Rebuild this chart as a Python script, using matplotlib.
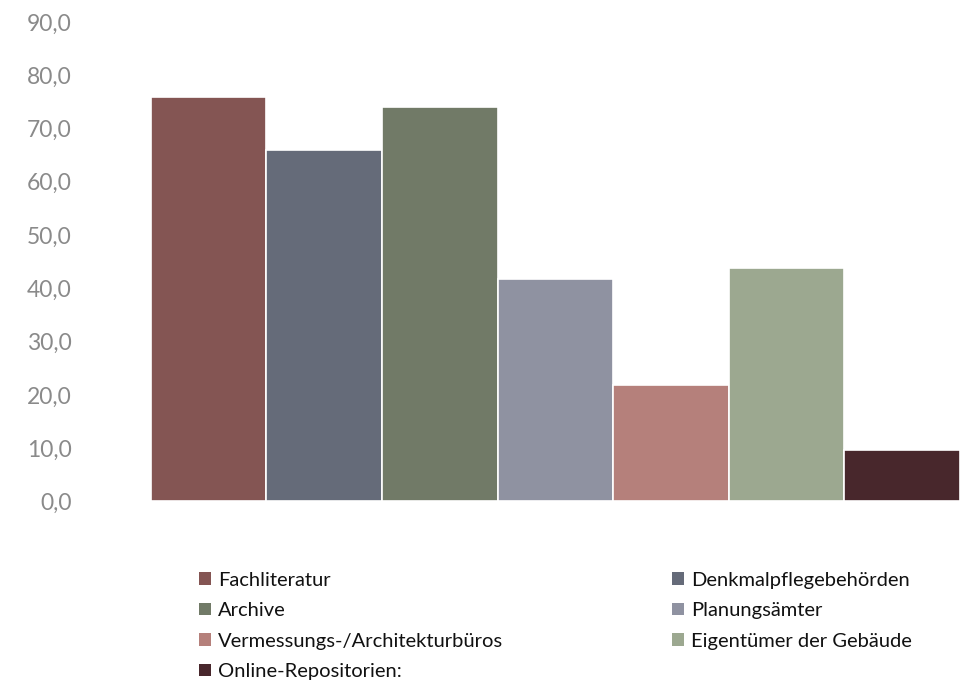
import matplotlib.pyplot as plt
import numpy as np
from matplotlib.patches import Patch
from matplotlib.ticker import FuncFormatter

categories = [
    "Fachliteratur",
    "Denkmalpflegebehörden",
    "Archive",
    "Planungsämter",
    "Vermessungs-/Architekturbüros",
    "Eigentümer der Gebäude",
    "Online-Repositorien:",
]
values = [76.0, 66.0, 74.1, 41.8, 21.8, 43.9, 9.6]
colors = ["#845553", "#656b79", "#717a67", "#8f92a1", "#b5807b", "#9ca890", "#48272c"]
yticks = np.arange(0, 91, 10)

plt.rcParams["font.family"] = ["Lato", "DejaVu Sans"]

fig = plt.figure(figsize=(9.61, 6.85), dpi=100)
ax = fig.add_axes([0.157, 0.268, 0.842, 0.700])

x = np.arange(len(categories))
ax.bar(x, values, width=1.0, color=colors, edgecolor="white", linewidth=1.2)

ax.set_xlim(-0.5, len(categories) - 0.5)
ax.set_ylim(0, 90)
ax.set_yticks(yticks)
ax.yaxis.set_major_formatter(FuncFormatter(lambda v, _: f"{v:.1f}".replace(".", ",")))
ax.tick_params(axis="y", length=0, pad=57, labelsize=16.5, labelcolor="#8a8a8a")
ax.set_xticks([])
for side in ax.spines.values():
    side.set_visible(False)

# legend is filled column by column, so reorder to read across the rows
order = [0, 2, 4, 6, 1, 3, 5]
handles = [Patch(facecolor=colors[i], edgecolor="none") for i in order]
labels = [categories[i] for i in order]
fig.legend(
    handles, labels,
    loc="upper left", bbox_to_anchor=(0.188, 0.192),
    ncol=2, frameon=False, fontsize=14.5,
    handlelength=0.6, handleheight=0.6, handletextpad=0.35,
    columnspacing=8.4, labelspacing=0.67,
    labelcolor="#111111",
)

fig.savefig("out.png", dpi=100)
